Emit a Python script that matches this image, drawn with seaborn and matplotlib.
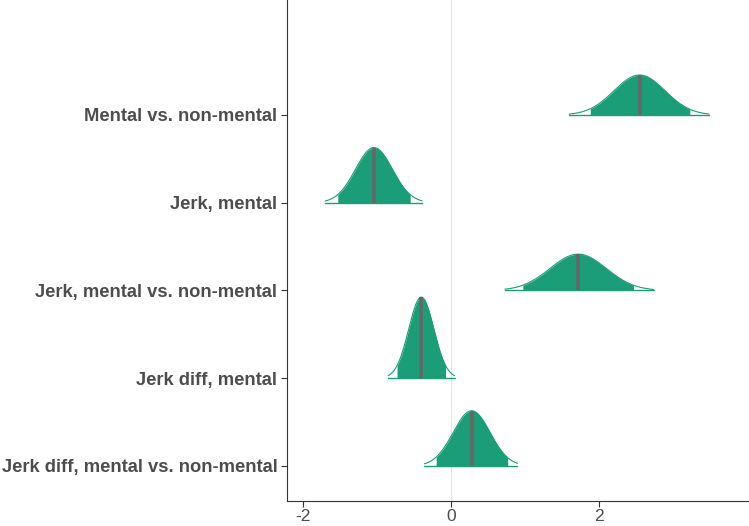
import numpy as np
import pandas as pd
import matplotlib
matplotlib.use("Agg")
import matplotlib.pyplot as plt
import seaborn as sns

# ---- data ----
labels = ["Mental vs. non-mental", "Jerk, mental", "Jerk, mental vs. non-mental",
          "Jerk diff, mental", "Jerk diff, mental vs. non-mental"]
medians = [2.55, -1.04, 1.72, -0.40, 0.28]
spreads = [0.345, 0.25, 0.38, 0.17, 0.25]          # approx. posterior sd
inner_lo = [1.88, -1.53, 0.97, -0.73, -0.20]
inner_hi = [3.23, -0.55, 2.47, -0.07, 0.77]
outer_lo = [1.60, -1.70, 0.73, -0.85, -0.36]
outer_hi = [3.49, -0.39, 2.74, 0.05, 0.90]
x_ticks = [-2, 0, 2]

GREEN = "#1b9e77"
MEDIAN = "#666666"
TEXT = "#4d4d4d"

sns.set_theme(style="white")
plt.rcParams['font.family'] = ['Liberation Sans', 'DejaVu Sans']

fig = plt.figure(figsize=(7.49, 5.26), dpi=100)
ax = fig.add_axes([287/749, 1 - 501/526, 1 - 287/749, 501/526])

scale = 0.394
n = len(labels)
ax.axvline(0, color="#e6e6e6", lw=0.8, zorder=0)
for i, lab in enumerate(labels):
    base = n - 1 - i
    x = np.linspace(outer_lo[i], outer_hi[i], 400)
    dens = np.exp(-0.5 * ((x - medians[i]) / spreads[i]) ** 2) / (spreads[i] * np.sqrt(2 * np.pi))
    y = base + dens * scale
    m = (x >= inner_lo[i]) & (x <= inner_hi[i])
    ax.fill_between(x, base, y, where=m, color=GREEN, lw=0, zorder=2)
    df = pd.DataFrame({"x": x, "y": y})
    sns.lineplot(data=df, x="x", y="y", ax=ax, color=GREEN, lw=0.8, zorder=3, sort=False)
    ax.plot([outer_lo[i], outer_hi[i]], [base, base], color=GREEN, lw=1.0, zorder=3)
    pk = base + scale / (spreads[i] * np.sqrt(2 * np.pi))
    ax.plot([medians[i], medians[i]], [base, pk], color=MEDIAN, lw=2.6, zorder=4,
            solid_capstyle="butt")

ax.set_xlim(-2.216, 4.03)
ax.set_ylim(-0.40, 4 + 115/87.75)
ax.set_yticks(range(n))
ax.set_yticklabels(labels[::-1], fontsize=13.2, fontweight="bold", color=TEXT)
ax.set_xticks(x_ticks)
ax.set_xticklabels([str(t) for t in x_ticks], fontsize=12.5, color=TEXT)
ax.set_xlabel("")
ax.set_ylabel("")
for s in ["top", "right"]:
    ax.spines[s].set_visible(False)
for s in ["left", "bottom"]:
    ax.spines[s].set_color("#333333")
    ax.spines[s].set_linewidth(0.8)
ax.tick_params(axis="both", which="both", length=4, width=0.8, color="#333333",
               direction="out", left=True, bottom=True)
ax.tick_params(axis="y", pad=3)
ax.tick_params(axis="x", pad=2)
ax.grid(False)

fig.savefig("out.png", dpi=100)
